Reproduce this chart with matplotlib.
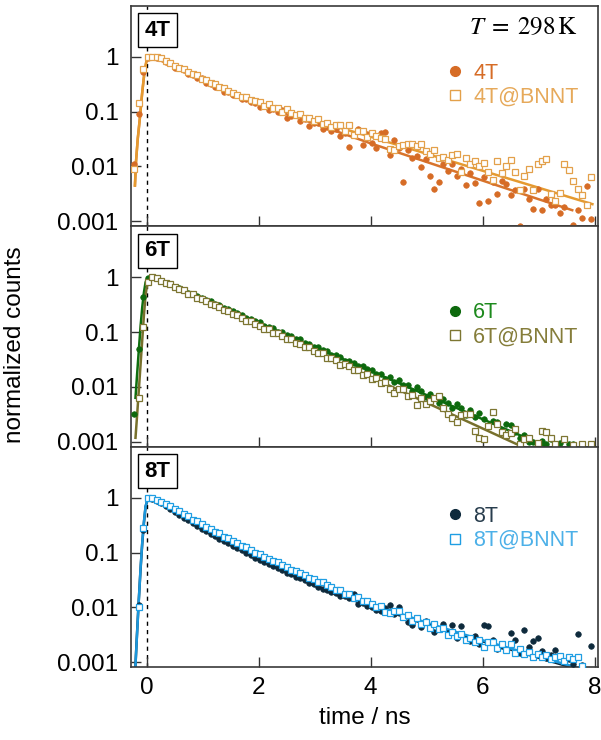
import numpy as np
import matplotlib.pyplot as plt
from matplotlib.lines import Line2D

plt.rcParams['font.family'] = ['Liberation Sans', 'DejaVu Sans']
plt.rcParams['mathtext.fontset'] = 'stix'

nan = np.nan

# time axis of the decays (ns)
time_ns = [
    -0.22, -0.14, -0.06, 0.02, 0.10, 0.18, 0.26, 0.34, 0.42, 0.50,
    0.58, 0.66, 0.74, 0.82, 0.90, 0.98, 1.06, 1.14, 1.22, 1.30,
    1.38, 1.46, 1.54, 1.62, 1.70, 1.78, 1.86, 1.94, 2.02, 2.10,
    2.18, 2.26, 2.34, 2.42, 2.50, 2.58, 2.66, 2.74, 2.82, 2.90,
    2.98, 3.06, 3.14, 3.22, 3.30, 3.38, 3.46, 3.54, 3.62, 3.70,
    3.78, 3.86, 3.94, 4.02, 4.10, 4.18, 4.26, 4.34, 4.42, 4.50,
    4.58, 4.66, 4.74, 4.82, 4.90, 4.98, 5.06, 5.14, 5.22, 5.30,
    5.38, 5.46, 5.54, 5.62, 5.70, 5.78, 5.86, 5.94, 6.02, 6.10,
    6.18, 6.26, 6.34, 6.42, 6.50, 6.58, 6.66, 6.74, 6.82, 6.90,
    6.98, 7.06, 7.14, 7.22, 7.30, 7.38, 7.46, 7.54, 7.62, 7.70,
    7.78, 7.86, 7.94]

# normalized counts, stored as log10 (nan = no counts)
lg_4t = [
    -1.95, -1.05, -0.28, -0.02, 0.00, -0.03, -0.03, -0.10, -0.11, -0.20,
    -0.21, -0.24, -0.31, -0.33, -0.38, -0.39, -0.48, -0.49, -0.55, -0.55,
    -0.64, -0.64, -0.69, -0.69, -0.77, -0.77, -0.83, -0.84, -0.91, -0.89,
    -0.98, -0.95, -1.01, -0.98, -1.11, -1.08, -1.07, -1.17, -1.14, -1.26,
    -1.20, -1.21, -1.32, -1.28, -1.36, -1.31, -1.45, -1.39, -1.64, -1.42,
    -1.32, -1.61, -1.41, -1.57, -1.67, -1.39, -1.37, -1.80, -1.52, -1.67,
    -2.28, -1.70, -1.85, -1.81, -2.01, -1.87, -2.18, -2.42, -2.28, -1.95,
    -2.09, -1.96, -2.18, -2.04, -2.34, -2.13, -2.31, -2.67, -2.19, -2.64,
    -2.28, -2.50, -2.26, -2.32, -2.53, -2.43, -3.08, -2.41, -2.59, -2.77,
    -2.42, -2.80, -2.60, -2.70, -2.70, -2.85, -2.75, nan, -3.07, -2.79,
    -2.94, -2.36, -2.97]
lg_4t_bnnt = [
    -2.05, -0.85, -0.22, 0.00, 0.00, -0.01, -0.02, -0.08, -0.11, -0.17,
    -0.21, -0.23, -0.27, -0.32, -0.34, -0.40, -0.42, -0.47, -0.50, -0.56,
    -0.57, -0.63, -0.66, -0.69, -0.74, -0.74, -0.79, -0.81, -0.83, -0.89,
    -0.87, -0.93, -0.93, -1.00, -0.96, -1.03, -1.07, -1.05, -1.11, -1.11,
    -1.18, -1.14, -1.22, -1.20, -1.29, -1.25, -1.25, -1.35, -1.24, -1.42,
    -1.36, -1.36, -1.46, -1.39, -1.45, -1.49, -1.50, -1.68, -1.70, -1.62,
    -1.61, -1.60, -1.60, -1.62, -1.60, -1.72, -1.78, -1.71, -1.85, -1.83,
    -1.89, -1.80, -1.78, -2.10, -1.84, -1.95, -1.91, -2.00, -1.93, -2.10,
    -2.25, -1.91, -2.13, -2.00, -1.89, -2.11, -2.43, -2.18, -2.05, -2.43,
    -1.96, -1.91, -1.87, -2.50, -2.63, -2.48, -1.95, -2.07, -2.26, -2.42,
    -2.52, -2.70, -2.20]
lg_6t = [
    -2.50, -1.30, -0.35, -0.02, 0.00, -0.02, -0.06, -0.10, -0.12, -0.18,
    -0.19, -0.24, -0.28, -0.30, -0.34, -0.37, -0.42, -0.44, -0.48, -0.51,
    -0.56, -0.58, -0.62, -0.65, -0.69, -0.74, -0.76, -0.80, -0.82, -0.88,
    -0.90, -0.93, -0.99, -0.99, -1.05, -1.07, -1.13, -1.13, -1.19, -1.21,
    -1.27, -1.27, -1.33, -1.35, -1.41, -1.41, -1.46, -1.52, -1.52, -1.57,
    -1.62, -1.62, -1.68, -1.70, -1.77, -1.76, -1.85, -1.82, -1.91, -1.88,
    -1.96, -1.97, -2.07, -2.01, -2.08, -2.19, -2.13, -2.20, -2.30, -2.23,
    -2.29, -2.39, -2.31, -2.39, -2.51, -2.43, -2.55, -2.48, -2.58, -2.71,
    -2.62, -2.64, -2.79, -2.67, -2.69, -2.82, -2.94, -2.88, -3.00, -3.00,
    -3.03, -2.98, -3.05, -2.96, nan, -3.03, nan, -3.04, -3.05, nan,
    nan, nan, nan]
lg_6t_bnnt = [
    nan, -2.20, -0.90, -0.08, 0.00, -0.02, -0.06, -0.10, -0.13, -0.18,
    -0.21, -0.24, -0.30, -0.31, -0.37, -0.39, -0.44, -0.48, -0.50, -0.55,
    -0.60, -0.62, -0.67, -0.69, -0.74, -0.80, -0.80, -0.85, -0.88, -0.94,
    -0.95, -1.01, -1.02, -1.08, -1.12, -1.13, -1.20, -1.22, -1.28, -1.28,
    -1.34, -1.39, -1.39, -1.47, -1.48, -1.51, -1.60, -1.59, -1.62, -1.70,
    -1.69, -1.79, -1.77, -1.86, -1.83, -1.92, -1.91, -2.03, -2.12, -2.03,
    -2.04, -2.17, -2.14, -2.33, -2.20, -2.31, -2.26, -2.20, -2.17, -2.38,
    -2.49, -2.56, -2.65, -2.52, -2.50, -2.50, -2.81, -2.93, -2.96, -2.71,
    -2.46, -2.67, -2.82, -2.88, -2.84, -2.77, -3.05, -2.96, -2.93, nan,
    -3.03, -2.80, -2.82, -2.93, -3.04, nan, -2.95, nan, -3.06, nan,
    -3.04, nan, -3.05]
lg_8t = [
    nan, -1.95, -0.58, -0.01, -0.02, -0.05, -0.09, -0.15, -0.20, -0.26,
    -0.31, -0.36, -0.41, -0.46, -0.51, -0.56, -0.61, -0.66, -0.70, -0.75,
    -0.79, -0.83, -0.88, -0.92, -0.96, -1.00, -1.05, -1.09, -1.14, -1.17,
    -1.21, -1.25, -1.28, -1.32, -1.37, -1.39, -1.44, -1.47, -1.50, -1.55,
    -1.57, -1.62, -1.66, -1.68, -1.72, -1.74, -1.79, -1.80, -1.83, -1.75,
    -1.94, -1.92, -1.97, -1.99, -2.04, -2.07, -2.01, -1.96, -2.12, -2.00,
    -2.18, -2.26, -2.32, -2.22, -2.36, -2.25, -2.36, -2.44, -2.40, -2.31,
    -2.47, -2.33, -2.56, -2.34, -2.58, -2.62, -2.52, -2.66, -2.33, -2.34,
    -2.60, -2.76, -2.70, -2.78, -2.47, -2.60, -2.83, -2.42, -2.73, -2.61,
    -2.56, -2.80, -2.92, -2.86, -2.78, -2.89, -2.98, -2.95, -3.04, -2.49,
    -3.06, nan, -2.71]
lg_8t_bnnt = [
    nan, -2.00, -0.55, 0.00, -0.01, -0.04, -0.07, -0.12, -0.15, -0.21,
    -0.24, -0.30, -0.33, -0.40, -0.43, -0.48, -0.54, -0.57, -0.62, -0.65,
    -0.71, -0.74, -0.79, -0.82, -0.88, -0.90, -0.95, -1.01, -1.03, -1.08,
    -1.11, -1.16, -1.18, -1.23, -1.26, -1.32, -1.33, -1.38, -1.40, -1.46,
    -1.48, -1.54, -1.54, -1.60, -1.62, -1.68, -1.68, -1.75, -1.75, -1.82,
    -1.81, -1.88, -1.88, -1.93, -2.00, -1.98, -2.09, -2.10, -2.06, -2.07,
    -2.17, -2.14, -2.24, -2.19, -2.30, -2.26, -2.37, -2.31, -2.40, -2.38,
    -2.50, -2.45, -2.53, -2.49, -2.60, -2.55, -2.63, -2.59, -2.72, -2.64,
    -2.63, -2.75, -2.66, -2.77, -2.67, -2.84, -2.76, -2.85, -2.82, -2.90,
    -2.85, -2.91, -2.86, -2.95, -2.91, -2.89, -2.98, -2.90, -2.95, -2.91,
    -3.07, nan, nan]

# fitted decay curves (time, log10 counts)
fit_4t_t = [-0.21, -0.19, -0.16, -0.12, -0.08, -0.04, 0.00, 0.05, 0.10, 0.5, 1.0,
            1.5, 2.0, 2.5, 3.0, 3.5, 4.0, 5.0, 6.0, 7.0, 7.6]
fit_4t_lg = [-2.35, -1.90, -1.50, -1.10, -0.65, -0.28, -0.05, 0.0, 0.0, -0.18, -0.42,
             -0.66, -0.87, -1.05, -1.22, -1.40, -1.58, -1.92, -2.26, -2.60, -2.80]
fit_4t_bnnt_t = [-0.21, -0.19, -0.16, -0.12, -0.08, -0.04, 0.00, 0.05, 0.10, 0.5, 1.0,
                 1.5, 2.0, 2.5, 3.0, 3.5, 4.0, 5.0, 6.0, 7.0, 7.96]
fit_4t_bnnt_lg = [-2.35, -1.90, -1.50, -1.10, -0.65, -0.28, -0.05, 0.0, 0.0, -0.17, -0.40,
                  -0.65, -0.84, -1.00, -1.16, -1.31, -1.46, -1.77, -2.08, -2.39, -2.69]
fit_6t_t = [-0.20, -0.17, -0.14, -0.11, -0.08, -0.05, -0.02, 0.02, 0.10, 0.18, 0.26,
            0.42, 1.0, 2.0, 3.0, 4.0, 5.0, 6.0, 7.0, 7.3]
fit_6t_lg = [-2.20, -1.75, -1.32, -0.90, -0.55, -0.28, -0.09, 0.0, 0.0, -0.02, -0.06,
             -0.13, -0.39, -0.83, -1.27, -1.71, -2.15, -2.59, -3.03, -3.16]
fit_6t_bnnt_t = [-0.20, -0.17, -0.14, -0.11, -0.08, -0.05, -0.02, 0.02, 0.10, 0.18, 0.26,
                 0.42, 1.0, 2.0, 3.0, 4.0, 5.0, 6.0, 7.0]
fit_6t_bnnt_lg = [-2.93, -2.50, -2.05, -1.60, -1.15, -0.70, -0.32, -0.05, 0.0, -0.02, -0.06,
                  -0.14, -0.41, -0.88, -1.35, -1.82, -2.29, -2.76, -3.23]
fit_8t_t = [-0.205, -0.18, -0.145, -0.11, -0.08, -0.05, -0.02, 0.02, 0.05, 0.2, 0.5,
            1.0, 1.5, 2.0, 2.5, 3.0, 3.5, 4.0, 5.0, 6.0, 7.0, 7.8]
fit_8t_lg = [-3.15, -2.62, -1.93, -1.31, -0.84, -0.46, -0.16, -0.02, 0.0, -0.06, -0.25,
             -0.58, -0.86, -1.12, -1.36, -1.59, -1.80, -1.98, -2.30, -2.62, -2.92, -3.16]
fit_8t_bnnt_t = [-0.205, -0.18, -0.145, -0.11, -0.08, -0.05, -0.02, 0.02, 0.05, 0.2, 0.5,
                 1.0, 1.5, 2.0, 2.5, 3.0, 3.5, 4.0, 5.0, 6.0, 7.0, 7.9]
fit_8t_bnnt_lg = [-3.15, -2.64, -1.95, -1.29, -0.82, -0.44, -0.15, -0.02, 0.0, -0.05, -0.20,
                  -0.50, -0.77, -1.03, -1.27, -1.50, -1.72, -1.93, -2.28, -2.60, -2.90, -3.16]

y_ticks = [0.001, 0.01, 0.1, 1]
y_ticklabels = ["0.001", "0.01", "0.1", "1"]
x_ticks = [0, 2, 4, 6, 8]

panels = [
    dict(name="4T", dots=lg_4t, squares=lg_4t_bnnt,
         fit_d=(fit_4t_t, fit_4t_lg), fit_s=(fit_4t_bnnt_t, fit_4t_bnnt_lg),
         c_dot="#d66c26", c_sq="#e3a04a", c_line_d="#d8742c", c_line_s="#e59a30",
         t_dot="#d66c26", t_sq="#e6a95a", leg_y=0.64),
    dict(name="6T", dots=lg_6t, squares=lg_6t_bnnt,
         fit_d=(fit_6t_t, fit_6t_lg), fit_s=(fit_6t_bnnt_t, fit_6t_bnnt_lg),
         c_dot="#0d690d", c_sq="#7d7632", c_line_d="#0f6e0f", c_line_s="#77702c",
         t_dot="#1d8a1d", t_sq="#857d3a", leg_y=0.553),
    dict(name="8T", dots=lg_8t, squares=lg_8t_bnnt,
         fit_d=(fit_8t_t, fit_8t_lg), fit_s=(fit_8t_bnnt_t, fit_8t_bnnt_lg),
         c_dot="#0e2a3c", c_sq="#1f9ee3", c_line_d="#0e2a3c", c_line_s="#1b97dc",
         t_dot="#283d4d", t_sq="#4cb0e8", leg_y=0.63),
]

fig = plt.figure(figsize=(6.01, 7.40), dpi=100)
left, width = 0.218, 0.777
height = 0.298
bottoms = [0.694, 0.396, 0.098]
fs = 17.5

t = np.array(time_ns)
axes = []
for p, b in zip(panels, bottoms):
    ax = fig.add_axes([left, b, width, height])
    axes.append(ax)

    ax.axvline(0, color="black", lw=1.0, ls=(0, (3, 3)), zorder=1)

    ft, fl = p["fit_d"]
    ax.plot(ft, np.power(10.0, fl), color=p["c_line_d"], lw=1.8, zorder=2)
    ft, fl = p["fit_s"]
    ax.plot(ft, np.power(10.0, fl), color=p["c_line_s"], lw=1.8, zorder=2)

    ax.plot(t, np.power(10.0, np.array(p["dots"])), ls="none", marker="o",
            ms=4.0, mfc=p["c_dot"], mec=p["c_dot"], mew=0.5, zorder=3)
    ax.plot(t, np.power(10.0, np.array(p["squares"])), ls="none", marker="s",
            ms=4.6, mfc="white", mec=p["c_sq"], mew=0.9, zorder=4)

    ax.set_yscale("log")
    ax.set_xlim(-0.28, 8.06)
    ax.set_ylim(8.0e-4, 8.5)
    ax.set_yticks(y_ticks)
    ax.set_yticklabels(y_ticklabels)
    ax.minorticks_off()
    ax.set_xticks(x_ticks)
    ax.tick_params(direction="in", length=7, width=1.0, colors="#333333",
                   labelcolor="black", labelsize=fs, top=False, right=False)
    ax.tick_params(axis="y", pad=9)
    ax.tick_params(axis="x", pad=7)
    for s in ax.spines.values():
        s.set_color("#3a3a3a")
        s.set_linewidth(1.2)

    ax.text(0.056, 0.89, p["name"], transform=ax.transAxes, ha="center",
            va="center", fontsize=16, fontweight="bold",
            bbox=dict(boxstyle="square,pad=0.3", fc="white", ec="black", lw=1.0),
            zorder=6)

    handles = [
        Line2D([], [], ls="none", marker="o", ms=7, mfc=p["c_dot"], mec=p["c_dot"]),
        Line2D([], [], ls="none", marker="s", ms=7, mfc="white", mec=p["c_sq"], mew=1.0),
    ]
    ax.legend(handles, [p["name"], p["name"] + "@BNNT"], loc="center left",
              bbox_to_anchor=(0.675, p["leg_y"]), frameon=False, fontsize=15.5,
              handlelength=0.8, handletextpad=0.45, labelspacing=0.15,
              borderpad=0, borderaxespad=0, labelcolor=[p["t_dot"], p["t_sq"]])

for ax in axes[:-1]:
    ax.tick_params(labelbottom=False)

axes[0].text(0.957, 0.905, r"$T\;=\;298\,\mathrm{K}$", transform=axes[0].transAxes,
             ha="right", va="center", fontsize=18)

fig.text(15 / 601, 1 - 345 / 740, "normalized counts", rotation=90,
         ha="center", va="center", fontsize=fs)
fig.text(365 / 601, 1 - 718 / 740, "time / ns", ha="center", va="center",
         fontsize=fs)

fig.savefig("out.png", dpi=100)
